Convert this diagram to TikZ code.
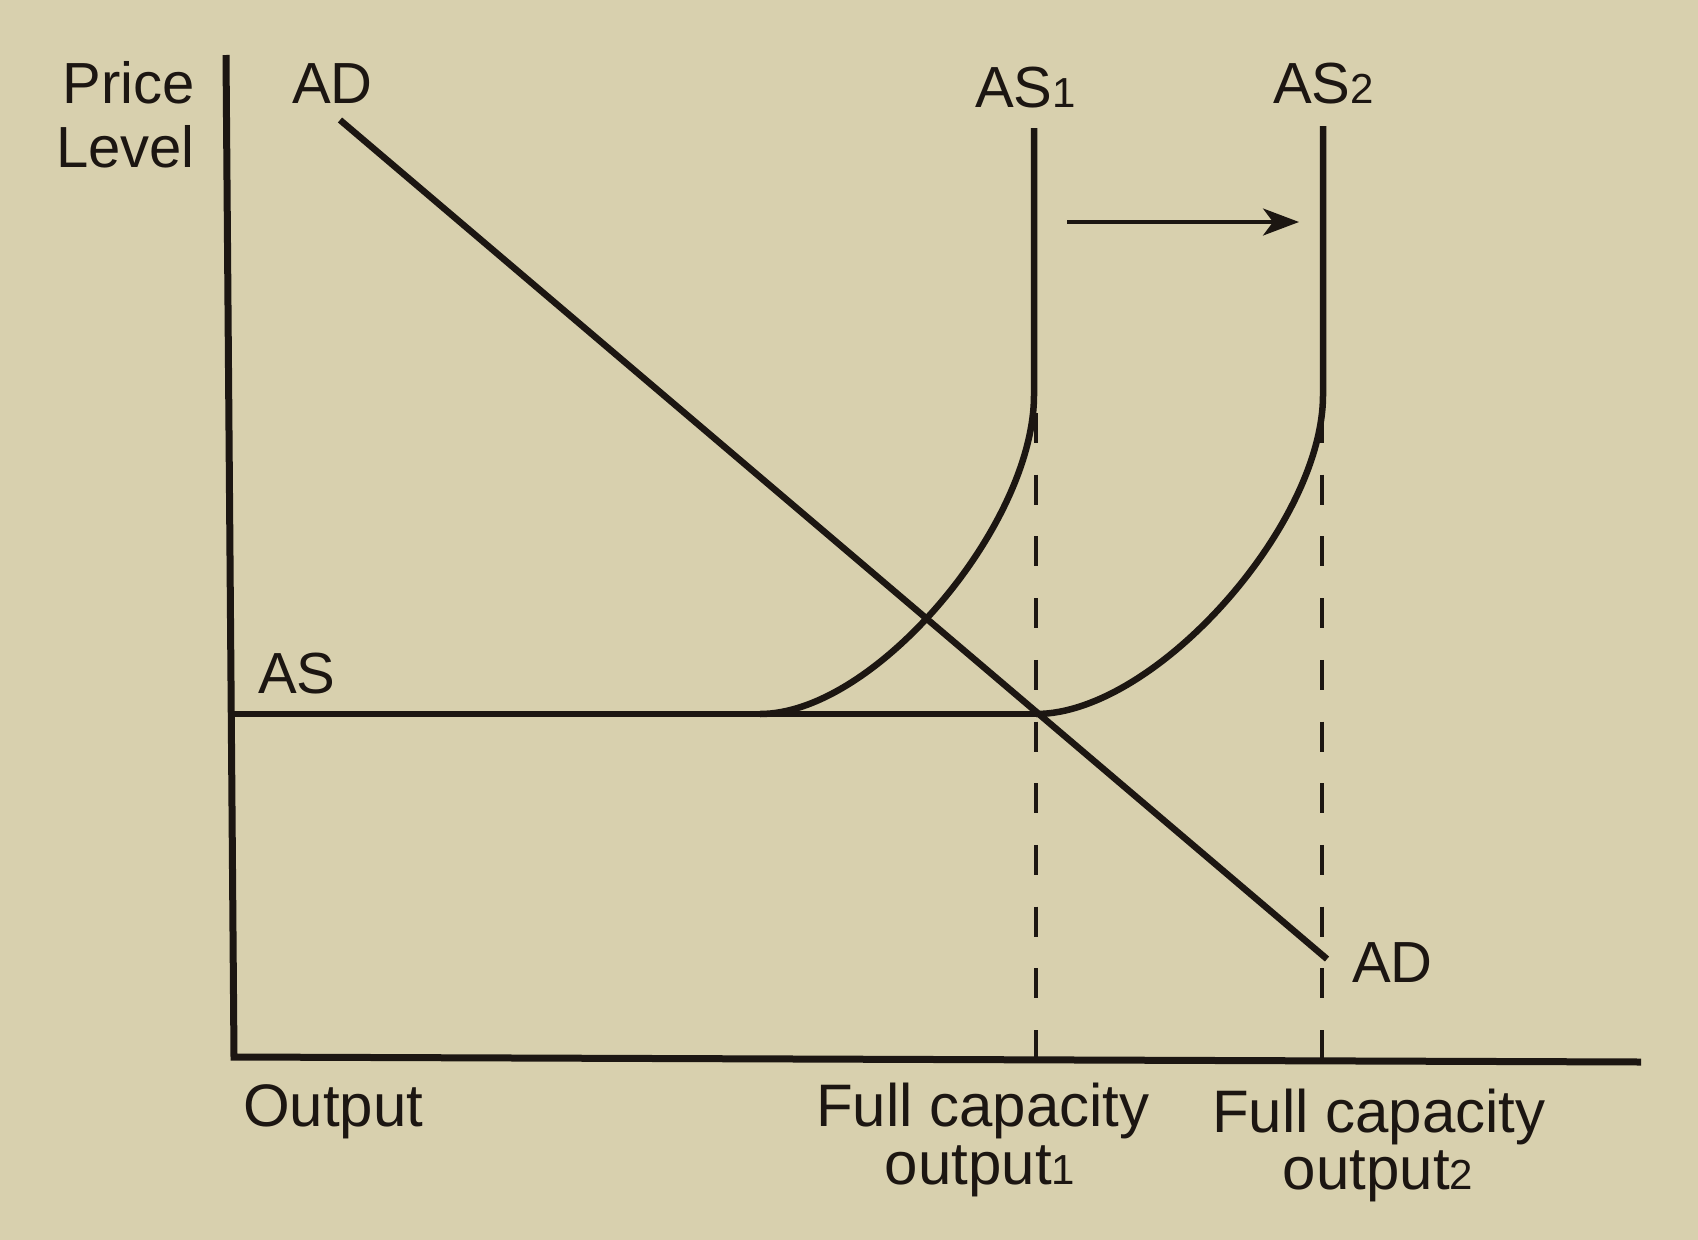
\documentclass[tikz,border=0pt]{standalone}
\usepackage{fontspec}
\setmainfont{Liberation Sans}
\usetikzlibrary{arrows.meta}
\definecolor{paper}{RGB}{216,208,174}
\definecolor{ink}{RGB}{28,22,18}
\newcommand\smalldigit[1]{{\fontsize{42}{42}\selectfont #1}}
\begin{document}
\begin{tikzpicture}[x=1pt,y=-1pt,
  curve/.style={draw=ink,line width=6.5pt},
  axisline/.style={draw=ink,line width=7pt,line join=miter},
  guide/.style={draw=ink,line width=3.5pt,dash pattern=on 30pt off 31.7pt},
  lbl/.style={inner sep=0pt,text=ink,font=\fontsize{58}{64}\selectfont},
  lblb/.style={inner sep=0pt,text=ink,font=\fontsize{60}{64}\selectfont}]
\fill[paper] (0,0) rectangle (1698,1240);
\useasboundingbox (0,0) rectangle (1698,1240);
% axes
\coordinate (ytop) at (226,55);
\coordinate (origin) at (234,1057);
\coordinate (xend) at (1641,1062);
\draw[axisline] (ytop) -- (origin) -- (xend);
% guides
\coordinate (g1a) at (1036,413); \coordinate (g1b) at (1036,1057);
\coordinate (g2a) at (1322,413); \coordinate (g2b) at (1322,1059);
\draw[guide] (g1a) -- (g1b);
\draw[guide] (g2a) -- (g2b);
% AS horizontal
\coordinate (ash0) at (232,714);
\coordinate (ash1) at (1036,714);
\draw[curve] (ash0) -- (ash1);
% AS1
\coordinate (as1top) at (1034,128);
\coordinate (as1knee) at (1034,395);
\coordinate (as1foot) at (760,714);
\draw[curve] (as1top) -- (as1knee) .. controls (1034,525) and (875,714) .. (as1foot);
% AS2
\coordinate (as2top) at (1323,126);
\coordinate (as2knee) at (1323,395);
\draw[curve] (as2top) -- (as2knee) .. controls (1323,525) and (1155,714) .. (ash1);
% AD
\coordinate (ad0) at (340,120);
\coordinate (ad1) at (1327,959);
\draw[curve] (ad0) -- (ad1);
% shift arrow
\coordinate (arr0) at (1067,222);
\coordinate (arr1) at (1299,222);
\draw[ink,line width=3.5pt,-{Stealth[length=36pt,width=27pt,inset=10pt]}] (arr0) -- (arr1);
% labels
\node[lbl,anchor=base east] (price) at (195,103) {Price};
\node[lbl,anchor=base east] (level) at (195,167) {Level};
\node[lbl,anchor=base west] (adtop) at (292,103) {AD};
\node[lbl,anchor=base west] (as1lbl) at (975,107) {AS\smalldigit{1}};
\node[lbl,anchor=base west] (as2lbl) at (1273,103) {AS\smalldigit{2}};
\node[lbl,anchor=base west] (aslbl) at (258,693) {AS};
\node[lbl,anchor=base west] (adbot) at (1352,982) {AD};
\node[lblb,anchor=base west] (outlbl) at (243,1126) {Output};
\node[lblb,anchor=base] (fc1) at (983,1126) {Full capacity};
\node[lblb,anchor=base] (fo1) at (980,1184) {output\smalldigit{1}};
\node[lblb,anchor=base] (fc2) at (1379,1132) {Full capacity};
\node[lblb,anchor=base] (fo2) at (1378,1189) {output\smalldigit{2}};
\end{tikzpicture}
\end{document}
